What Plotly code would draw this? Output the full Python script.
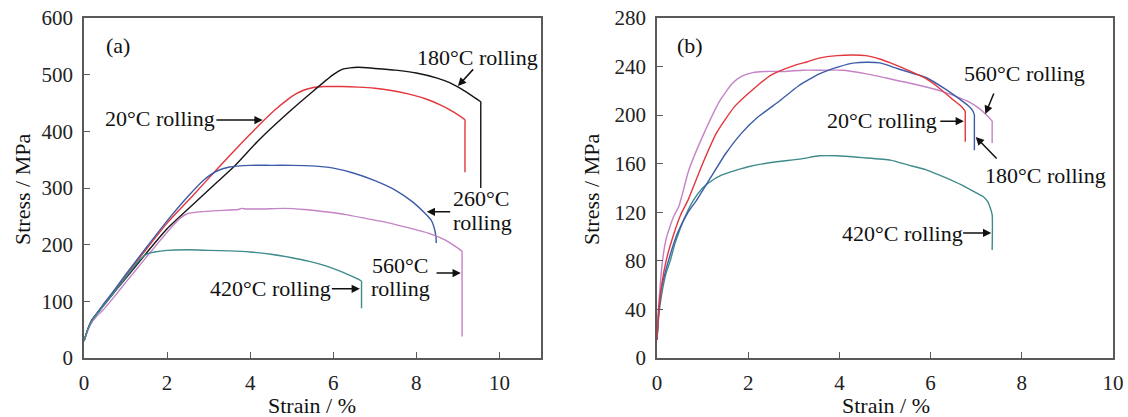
import plotly.graph_objects as go

# ---------------- Panel (a) data: strain (%) and stress (MPa) ----------------
red_a_x = [0, 0.1, 0.2, 0.35, 0.5, 0.75, 1.0, 1.5, 2.0, 2.6, 3.2, 3.8, 4.2, 4.6, 4.9, 5.1, 5.3, 5.5, 5.8, 6.2, 6.6, 7.0, 7.4, 7.8, 8.2, 8.6, 8.9, 9.17, 9.17, 9.17]
red_a_y = [30, 52, 68, 82, 97, 120, 145, 192, 238, 285, 333, 380, 410, 438, 456, 466, 473, 477, 479, 479, 478, 476, 472, 466, 458, 446, 434, 420, 414, 328]

black_a_x = [0, 0.1, 0.2, 0.35, 0.5, 0.75, 1.0, 1.5, 2.0, 2.7, 3.2, 3.6, 4.2, 4.9, 5.5, 6.0, 6.2, 6.4, 6.6, 7.0, 7.5, 8.0, 8.5, 8.8, 9.1, 9.35, 9.55, 9.55, 9.55]
black_a_y = [30, 52, 68, 82, 95, 118, 140, 185, 228, 276, 310, 337, 384, 432, 470, 500, 509, 512, 513, 511, 508, 503, 494, 486, 474, 462, 452, 446, 300]

blue_a_x = [0, 0.1, 0.2, 0.35, 0.5, 0.75, 1.0, 1.5, 2.0, 2.5, 2.9, 3.2, 3.5, 4.0, 4.5, 5.0, 5.5, 6.0, 6.5, 7.0, 7.5, 7.9, 8.2, 8.35, 8.42, 8.47, 8.48]
blue_a_y = [30, 52, 68, 83, 98, 122, 147, 195, 242, 285, 315, 330, 337, 340, 340, 340, 339, 335, 326, 313, 296, 276, 256, 244, 232, 215, 203]

pink_a_x = [0, 0.1, 0.2, 0.35, 0.5, 0.75, 1.0, 1.5, 2.0, 2.3, 2.5, 2.8, 3.2, 3.7, 3.8, 3.9, 4.3, 4.8, 5.3, 5.8, 6.3, 6.8, 7.3, 7.8, 8.3, 8.7, 9.1, 9.1, 9.1]
pink_a_y = [30, 50, 64, 77, 88, 110, 133, 178, 222, 246, 255, 258, 260, 262, 264, 263, 263, 264, 262, 258, 253, 246, 239, 230, 220, 208, 188, 182, 38]

green_a_x = [0, 0.1, 0.2, 0.35, 0.5, 0.75, 1.0, 1.3, 1.5, 1.7, 2.0, 2.5, 3.0, 3.5, 4.0, 4.5, 5.0, 5.4, 5.8, 6.1, 6.4, 6.6, 6.68, 6.68, 6.68]
green_a_y = [30, 52, 67, 81, 95, 118, 142, 170, 183, 187, 190, 191, 190, 189, 187, 183, 177, 171, 163, 155, 146, 139, 135, 130, 88]

# ---------------- Panel (b) data ----------------
pink_b_x = [0, 0.03, 0.07, 0.12, 0.2, 0.3, 0.37, 0.48, 0.7, 1.03, 1.38, 1.65, 1.85, 2.1, 2.4, 2.8, 3.2, 3.6, 4.1, 4.6, 5.1, 5.7, 6.3, 6.84, 7.05, 7.23, 7.35, 7.35, 7.35]
pink_b_y = [15, 40, 60, 80, 98, 110, 117, 125, 155, 185, 212, 226, 232, 235, 236, 236, 237, 237, 237, 234, 230, 225, 219, 211, 206, 200, 195, 193, 177]

red_b_x = [0, 0.04, 0.1, 0.2, 0.35, 0.52, 0.68, 1.0, 1.3, 1.7, 2.16, 2.5, 2.94, 3.3, 3.56, 3.95, 4.3, 4.58, 4.9, 5.12, 5.5, 5.9, 6.2, 6.45, 6.68, 6.76, 6.76, 6.76]
red_b_y = [15, 40, 60, 80, 100, 118, 130, 160, 185, 207, 223, 233, 240, 244, 247, 249, 249.5, 249, 246, 243, 237, 230, 222, 214, 207, 203, 201, 178]

blue_b_x = [0, 0.04, 0.1, 0.25, 0.45, 0.68, 0.87, 1.2, 1.5, 1.85, 2.2, 2.7, 3.1, 3.56, 4.0, 4.34, 4.6, 4.89, 5.3, 5.9, 6.3, 6.68, 6.85, 6.92, 6.96, 6.96, 6.96]
blue_b_y = [15, 38, 58, 80, 103, 120, 130, 150, 168, 185, 198, 212, 224, 234, 240, 243, 243.5, 243, 238, 231, 222, 212, 207, 204, 200, 197, 171]

teal_b_x = [0, 0.04, 0.1, 0.2, 0.29, 0.4, 0.6, 0.8, 1.0, 1.2, 1.38, 1.6, 2.0, 2.5, 3.17, 3.56, 3.95, 4.5, 5.12, 5.5, 5.9, 6.3, 6.68, 7.0, 7.15, 7.25, 7.3, 7.35, 7.35]
teal_b_y = [15, 35, 52, 70, 80, 95, 115, 130, 140, 146, 150, 153, 157.5, 161, 164, 166.5, 166.5, 165, 163, 159, 155, 149, 142.5, 136, 133, 129, 124.6, 118, 89]

# tick values
xticks_a = [0, 2, 4, 6, 8, 10]
yticks_a = [0, 100, 200, 300, 400, 500, 600]
xticks_b = [0, 2, 4, 6, 8, 10]
yticks_b = [0, 40, 80, 120, 160, 200, 240, 280]

RED = "#e2373d"
BLACK = "#151515"
BLUE = "#3d5ca8"
PINK = "#c483c6"
TEAL = "#3f8b8b"
FONT = "Liberation Serif"
FS_TICK = 21
FS_TEXT = 22

fig = go.Figure()

def add(x, y, color, xa, ya, name):
    fig.add_trace(go.Scatter(x=x, y=y, mode="lines", name=name,
                             line=dict(color=color, width=1.4, shape="spline", smoothing=0.5),
                             xaxis=xa, yaxis=ya, showlegend=False))

add(red_a_x, red_a_y, RED, "x", "y", "20°C rolling")
add(black_a_x, black_a_y, BLACK, "x", "y", "180°C rolling")
add(blue_a_x, blue_a_y, BLUE, "x", "y", "260°C rolling")
add(pink_a_x, pink_a_y, PINK, "x", "y", "560°C rolling")
add(green_a_x, green_a_y, TEAL, "x", "y", "420°C rolling")

add(teal_b_x, teal_b_y, TEAL, "x2", "y2", "420°C rolling")
add(pink_b_x, pink_b_y, PINK, "x2", "y2", "560°C rolling")
add(blue_b_x, blue_b_y, BLUE, "x2", "y2", "180°C rolling")
add(red_b_x, red_b_y, RED, "x2", "y2", "20°C rolling")

axis_common = dict(showgrid=False, zeroline=False, showline=True, linecolor="#5a5a5a",
                   linewidth=1.6, mirror=True, ticks="inside", ticklen=6, tickwidth=1.4,
                   tickcolor="#5a5a5a", tickfont=dict(family=FONT, size=FS_TICK, color="#222"),
                   ticklabelstandoff=5, automargin=False)

fig.update_layout(
    template="none",
    width=1128, height=417,
    margin=dict(l=0, r=0, t=18, b=59, autoexpand=False),
    paper_bgcolor="white", plot_bgcolor="white",
    xaxis=dict(domain=[84/1128, 541/1128], range=[0, 11], tickvals=xticks_a, anchor="y", **axis_common),
    yaxis=dict(domain=[0, 1], range=[0, 600], tickvals=yticks_a, anchor="x", **axis_common),
    xaxis2=dict(domain=[657/1128, 1113/1128], range=[0, 10], tickvals=xticks_b, anchor="y2", **axis_common),
    yaxis2=dict(domain=[0, 1], range=[0, 280], tickvals=yticks_b, anchor="x2", **axis_common),
)

tf = dict(family=FONT, size=FS_TEXT, color="#111")

def label(text, x, y, xr, yr, **kw):
    fig.add_annotation(text=text, x=x, y=y, xref=xr, yref=yr, showarrow=False, font=tf,
                       xanchor="center", yanchor="middle", **kw)

def arrow(x0, y0, x1, y1, xr, yr):
    fig.add_annotation(text="", x=x1, y=y1, ax=x0, ay=y0, xref=xr, yref=yr, axref=xr, ayref=yr,
                       showarrow=True, arrowhead=2, arrowsize=1.1, arrowwidth=1.5, arrowcolor="#111")

# axis titles
label("Stress / MPa", 22/1128, 0.494, "paper", "paper", textangle=-90)
label("Stress / MPa", 591/1128, 0.494, "paper", "paper", textangle=-90)
label("Strain / %", 312/1128, -0.14, "paper", "paper")
label("Strain / %", 886/1128, -0.14, "paper", "paper")

# panel (a) labels
label("(a)", 0.81, 552, "x", "y")
label("180°C rolling", 9.48, 531, "x", "y")
arrow(9.4, 512, 9.0, 480, "x", "y")
label("20°C rolling", 1.83, 423, "x", "y")
arrow(3.15, 420, 4.3, 420, "x", "y")
label("260°C", 9.55, 281, "x", "y")
label("rolling", 9.6, 240, "x", "y")
arrow(8.85, 258, 8.25, 258, "x", "y")
label("560°C", 7.6, 164, "x", "y")
label("rolling", 7.62, 123, "x", "y")
arrow(8.45, 150, 9.07, 150, "x", "y")
label("420°C rolling", 4.48, 123, "x", "y")
arrow(5.93, 122, 6.64, 122, "x", "y")

# panel (b) labels
label("(b)", 0.73, 257.7, "x2", "y2")
label("560°C rolling", 8.07, 234, "x2", "y2")
arrow(7.4, 219, 7.2, 201, "x2", "y2")
label("20°C rolling", 4.93, 195.4, "x2", "y2")
arrow(6.18, 195, 6.73, 195, "x2", "y2")
label("180°C rolling", 8.53, 150.7, "x2", "y2")
arrow(7.48, 163, 6.99, 182, "x2", "y2")
label("420°C rolling", 5.38, 102.6, "x2", "y2")
arrow(6.68, 103, 7.33, 103, "x2", "y2")

fig.write_html("out.html", config={"displayModeBar": False},
               post_script="document.body.style.margin='0';document.body.style.padding='0';")
